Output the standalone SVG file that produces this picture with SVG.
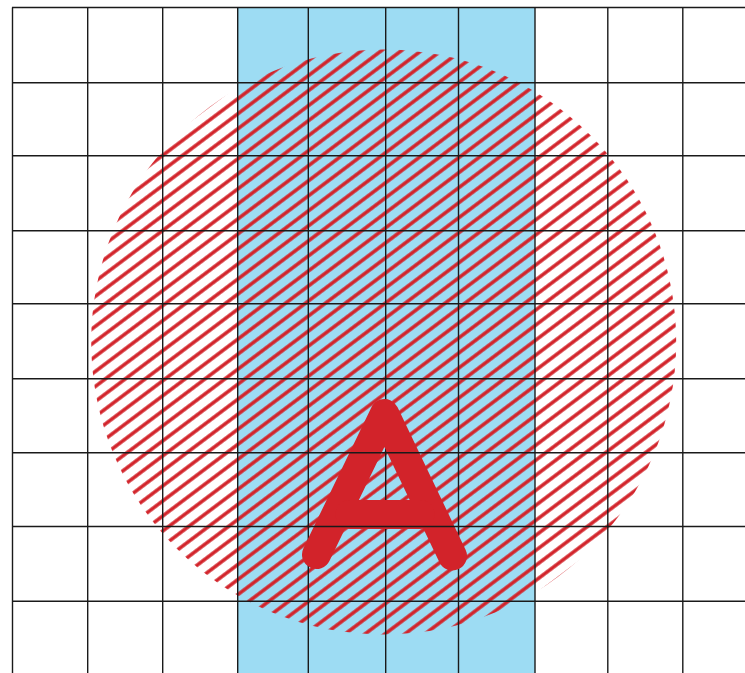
<svg xmlns="http://www.w3.org/2000/svg" width="745" height="673" viewBox="0 0 745 673">
<style>
.grid{stroke:#1a1a1a;stroke-width:1.4;fill:none}
.hatch{stroke:#d2232a;stroke-width:3.4}
.letter{stroke:#d2232a;stroke-width:29;fill:none;stroke-linecap:round;stroke-linejoin:round}
</style>
<defs>
<pattern id="hatchPat" patternUnits="userSpaceOnUse" width="30" height="12" patternTransform="rotate(-37)">
<line class="hatch" x1="-2" y1="6" x2="32" y2="6"/>
</pattern>
<clipPath id="circleClip"><circle cx="383.7" cy="342" r="292.5"/></clipPath>
</defs>
<rect width="745" height="673" fill="#ffffff"/>
<g id="band"><rect x="237.5" y="8" width="297.5" height="665" fill="#9ddcf3"/></g>
<g id="hatchCircle"><rect x="80" y="40" width="610" height="610" fill="url(#hatchPat)" clip-path="url(#circleClip)"/></g>
<g id="gridVertical" class="grid">
<line x1="12.5" y1="7.5" x2="12.5" y2="673"/>
<line x1="87.7" y1="7.5" x2="87.7" y2="673"/>
<line x1="162.7" y1="7.5" x2="162.7" y2="673"/>
<line x1="237.7" y1="7.5" x2="237.7" y2="673"/>
<line x1="308.3" y1="7.5" x2="308.3" y2="673"/>
<line x1="385.7" y1="7.5" x2="385.7" y2="673"/>
<line x1="458.5" y1="7.5" x2="458.5" y2="673"/>
<line x1="535" y1="7.5" x2="535" y2="673"/>
<line x1="607.8" y1="7.5" x2="607.8" y2="673"/>
<line x1="682.8" y1="7.5" x2="682.8" y2="673"/>
</g>
<g id="letterA" class="letter">
<path d="M316.5 554.5 L384.5 413.5 L452.5 556"/>
<line x1="350" y1="514.5" x2="420" y2="514.5"/>
</g>
<g id="gridHorizontal" class="grid">
<line x1="12" y1="7.5" x2="745" y2="7.5"/>
<line x1="12" y1="82.7" x2="745" y2="82.7"/>
<line x1="12" y1="155.7" x2="745" y2="155.7"/>
<line x1="12" y1="230.7" x2="745" y2="230.7"/>
<line x1="12" y1="303.7" x2="745" y2="303.7"/>
<line x1="12" y1="378.7" x2="745" y2="378.7"/>
<line x1="12" y1="452.7" x2="745" y2="452.7"/>
<line x1="12" y1="526.5" x2="745" y2="526.5"/>
<line x1="12" y1="601.3" x2="745" y2="601.3"/>
</g>
</svg>
